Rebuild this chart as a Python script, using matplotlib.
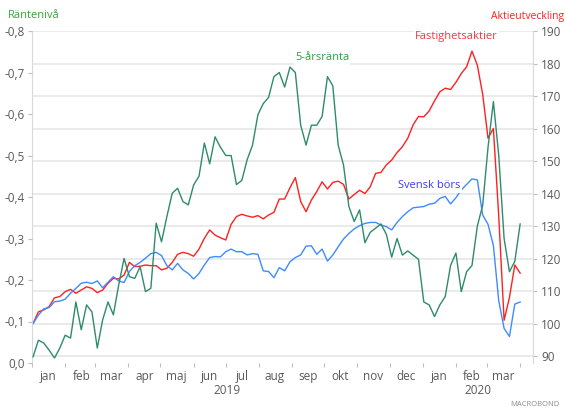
import pandas as pd
import matplotlib
matplotlib.use("Agg")
import matplotlib.pyplot as plt
import matplotlib.dates as mdates
from matplotlib.ticker import FuncFormatter, NullFormatter

plt.rcParams["font.family"] = ["Open Sans", "DejaVu Sans"]

# data (every 5 days from 2 jan 2019)
dates = pd.date_range("2019-01-02", periods=92, freq="5D")

rate_5y = [
    -0.015, -0.055, -0.048, -0.031, -0.012, -0.036, -0.067, -0.060, -0.147, -0.080,
    -0.140, -0.123, -0.036, -0.104, -0.147, -0.116, -0.188, -0.252, -0.208, -0.204,
    -0.232, -0.172, -0.180, -0.337, -0.292, -0.353, -0.409, -0.421, -0.389, -0.381,
    -0.429, -0.450, -0.530, -0.480, -0.545, -0.520, -0.500, -0.500, -0.430, -0.440,
    -0.490, -0.525, -0.598, -0.625, -0.640, -0.690, -0.700, -0.665, -0.713, -0.700,
    -0.573, -0.525, -0.573, -0.573, -0.594, -0.690, -0.668, -0.525, -0.477, -0.377,
    -0.341, -0.369, -0.290, -0.315, -0.325, -0.335, -0.310, -0.255, -0.300, -0.260,
    -0.270, -0.260, -0.250, -0.147, -0.140, -0.112, -0.140, -0.160, -0.235, -0.265,
    -0.172, -0.220, -0.235, -0.330, -0.380, -0.520, -0.630, -0.500, -0.300, -0.220,
    -0.245, -0.335,
]

property_stocks = [
    100.0, 103.6, 104.2, 105.2, 107.9, 108.3, 109.8, 110.5, 109.3, 110.3,
    111.3, 110.8, 109.5, 110.3, 112.4, 113.9, 113.7, 114.9, 118.8, 117.5,
    117.6, 118.0, 117.8, 117.8, 116.5, 117.0, 118.8, 121.3, 121.9, 121.5,
    120.7, 122.9, 126.2, 128.8, 127.2, 126.4, 125.7, 130.5, 132.9, 133.6,
    133.1, 132.7, 133.2, 132.2, 133.4, 134.2, 138.3, 138.3, 141.8, 144.9,
    137.5, 134.4, 138.0, 140.6, 143.6, 141.4, 143.4, 143.8, 142.8, 138.3,
    139.7, 141.0, 140.0, 142.1, 146.2, 146.5, 148.8, 150.3, 152.6, 154.4,
    157.0, 161.1, 163.7, 163.6, 165.4, 168.5, 171.3, 172.4, 172.0, 174.2,
    176.9, 179.0, 183.8, 179.5, 170.5, 157.0, 160.0, 133.0, 101.0, 108.0,
    118.0, 115.5,
]

swedish_stocks = [
    100.0, 102.6, 104.5, 104.9, 106.7, 106.9, 107.5, 109.3, 110.8, 112.4,
    112.7, 112.3, 113.1, 111.0, 112.7, 114.4, 113.1, 112.6, 116.0, 117.8,
    118.8, 120.1, 121.5, 121.9, 120.9, 117.8, 116.5, 118.5, 116.5, 115.4,
    113.7, 115.4, 118.0, 120.3, 120.6, 120.5, 122.1, 122.9, 122.1, 122.1,
    121.1, 121.5, 121.3, 116.2, 116.0, 114.1, 117.2, 116.2, 119.0, 120.3,
    121.1, 123.8, 123.9, 121.3, 122.9, 119.2, 121.1, 123.6, 126.0, 127.7,
    129.1, 130.1, 130.8, 131.1, 131.1, 130.3, 129.8, 128.8, 131.1, 132.9,
    134.4, 135.6, 135.8, 136.0, 136.7, 137.0, 138.5, 139.1, 136.8, 138.7,
    141.1, 142.8, 144.5, 144.2, 133.4, 130.5, 124.0, 107.0, 98.5, 96.0,
    106.0, 106.6,
]

month_names = ["jan", "feb", "mar", "apr", "maj", "jun",
               "jul", "aug", "sep", "okt", "nov", "dec"]
rate_ticks = [0.0, -0.1, -0.2, -0.3, -0.4, -0.5, -0.6, -0.7, -0.8]
index_ticks = [90, 100, 110, 120, 130, 140, 150, 160, 170, 180, 190]

green = "#2e8b6b"
red = "#ff2020"
blue = "#3d8bff"
gray = "#595959"
light = "#d9d9d9"

fig = plt.figure(figsize=(5.66, 4.09), dpi=100)
ax = fig.add_axes([32 / 566, 1 - 363 / 409, 501 / 566, 332 / 409])
ax2 = ax.twinx()

# right axis: stock indices
ax.plot(dates, property_stocks, color=red, lw=1.0)
ax.plot(dates, swedish_stocks, color=blue, lw=1.0)
ax.set_ylim(87.85, 190)
ax.set_yticks(index_ticks)
ax.yaxis.tick_right()
ax.grid(axis="y", color="#e6e6e6", lw=1.2)
ax.set_axisbelow(True)
ax.tick_params(axis="y", length=3, color="#bfbfbf", labelcolor=gray,
               labelsize=8.5, pad=3)

ax.set_xlim(pd.Timestamp("2019-01-01"), pd.Timestamp("2020-04-13"))
ax.xaxis.set_major_locator(mdates.MonthLocator())
ax.xaxis.set_major_formatter(NullFormatter())
ax.xaxis.set_minor_locator(mdates.MonthLocator(bymonthday=16))
ax.xaxis.set_minor_formatter(
    FuncFormatter(lambda x, p: month_names[mdates.num2date(x).month - 1]))
ax.tick_params(axis="x", which="major", length=3, color="#bfbfbf")
ax.tick_params(axis="x", which="minor", length=0, labelcolor=gray,
               labelsize=8.5, pad=5)

for s in ["top", "bottom"]:
    ax.spines[s].set_visible(False)
for s in ["left", "right"]:
    ax.spines[s].set_color(light)

xt = ax.get_xaxis_transform()
ax.text(pd.Timestamp("2019-07-02"), -0.082, "2019", transform=xt,
        ha="center", va="center", color=gray, fontsize=8.5)
ax.text(pd.Timestamp("2020-02-22"), -0.082, "2020", transform=xt,
        ha="center", va="center", color=gray, fontsize=8.5)

# left axis: interest rate, inverted
ax2.plot(dates, rate_5y, color=green, lw=1.0)
ax2.set_ylim(0.0, -0.8)
ax2.set_yticks(rate_ticks)
ax2.yaxis.tick_left()
ax2.yaxis.set_major_formatter(
    FuncFormatter(lambda v, p: f"{abs(v):.1f}".replace(".", ",") if abs(v) < 1e-9
                  else f"{v:.1f}".replace(".", ",")))
ax2.tick_params(axis="y", length=3, color="#bfbfbf", labelcolor=gray,
                labelsize=8.5, pad=2)
for s in ax2.spines.values():
    s.set_visible(False)

fig.text(8 / 566, 1 - 16 / 409, "Räntenivå", color="#33a33a", fontsize=8,
         ha="left", va="center")
fig.text(564 / 566, 1 - 16 / 409, "Aktieutveckling", color=red, fontsize=7.5,
         ha="right", va="center")

box = dict(facecolor="white", edgecolor="none", pad=1)
fig.text(322 / 566, 1 - 58 / 409, "5-årsränta", color="#2e9e3e", fontsize=8,
         ha="center", va="center", bbox=box)
fig.text(456 / 566, 1 - 37 / 409, "Fastighetsaktier", color="#ff3344",
         fontsize=8, ha="center", va="center", bbox=box)
fig.text(429 / 566, 1 - 186 / 409, "Svensk börs", color="#3a3aff", fontsize=8,
         ha="center", va="center", bbox=box)
fig.text(535 / 566, 1 - 405 / 409, "MACROBOND", color="#8c8c8c", fontsize=5.5,
         ha="center", va="center")

fig.savefig("out.png", dpi=100)
